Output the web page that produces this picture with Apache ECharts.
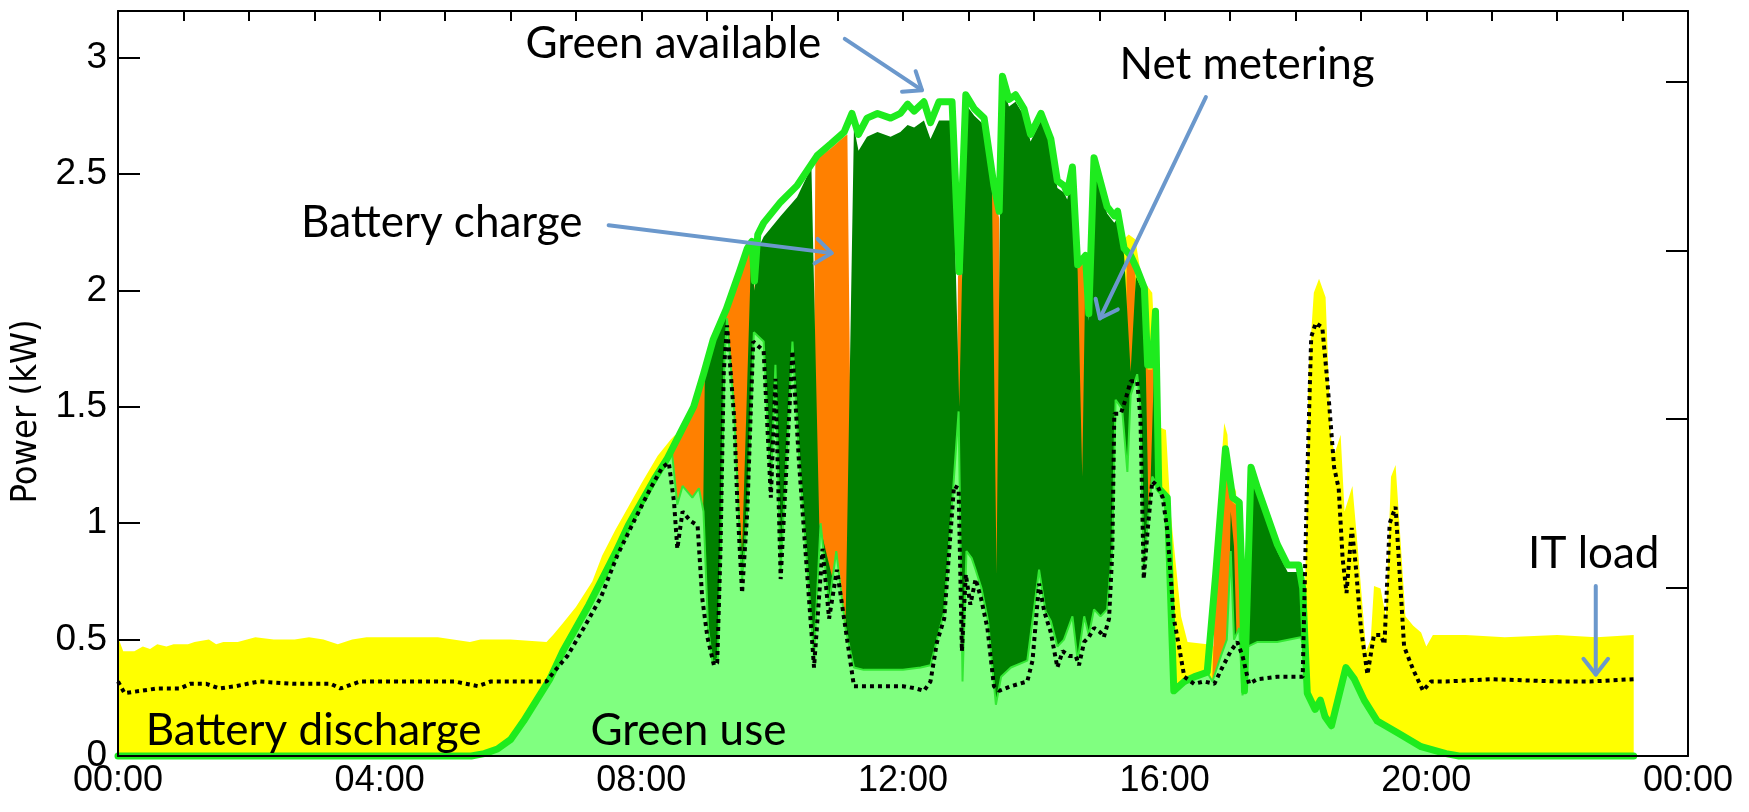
<!DOCTYPE html>
<html><head><meta charset="utf-8">
<script src="https://cdn.jsdelivr.net/npm/echarts@6/dist/echarts.min.js"></script>
<style>html,body{margin:0;padding:0;background:#fff}#c{width:1749px;height:812px}</style>
</head><body><div id="c"></div>
<script>
// ---- tick labels ----
const xTickLabels = ['00:00','04:00','08:00','12:00','16:00','20:00','00:00'];
const yTickLabels = ['0','0.5','1','1.5','2','2.5','3'];

// ---- series values: [hour of day, kW] (upper edge of each drawn layer) ----
const batteryDischarge = [[0,0.51],[0.08,0.45],[0.25,0.45],[0.38,0.47],[0.49,0.46],[0.6,0.48],[0.74,0.47],[0.85,0.48],[1.07,0.48],[1.17,0.49],[1.39,0.5],[1.5,0.48],[1.61,0.49],[1.83,0.49],[2.1,0.51],[2.38,0.5],[2.7,0.5],[2.92,0.51],[3.14,0.5],[3.36,0.48],[3.58,0.5],[3.8,0.51],[4.34,0.51],[4.89,0.51],[5.38,0.49],[5.54,0.5],[6.0,0.5],[6.55,0.49],[6.65,0.52],[6.8,0.57],[7.0,0.64],[7.25,0.75],[7.4,0.86],[7.6,0.97],[7.8,1.07],[8.0,1.17],[8.25,1.29],[8.45,1.36],[8.52,1.38],[8.6,0.2],[15.2,0.2],[15.3,2.2],[15.45,2.24],[15.55,2.22],[15.65,2.05],[15.81,1.99],[15.9,1.5],[15.94,1.41],[16.02,1.4],[16.09,1.05],[16.25,0.6],[16.35,0.49],[16.65,0.48],[16.75,0.47],[16.85,1.2],[16.91,1.43],[16.96,1.38],[17.01,1.07],[17.09,1.15],[17.14,0.72],[17.2,0.2],[18.1,0.2],[18.16,0.9],[18.2,1.65],[18.28,1.99],[18.36,2.05],[18.46,1.97],[18.54,1.37],[18.6,1.3],[18.69,1.38],[18.75,1.05],[18.87,1.16],[18.95,0.9],[19.08,0.45],[19.15,0.5],[19.2,0.73],[19.3,0.72],[19.38,0.6],[19.46,1.2],[19.53,1.25],[19.6,0.95],[19.68,0.6],[19.8,0.56],[19.92,0.53],[20.0,0.47],[20.1,0.52],[20.6,0.52],[21.2,0.51],[22.0,0.52],[22.6,0.51],[23.17,0.52]];

const batteryCharge = [[0,0],[8.44,0],[8.47,1.3],[8.6,1.37],[8.8,1.48],[8.95,1.62],[9.1,1.77],[9.3,1.9],[9.5,2.06],[9.62,2.16],[9.69,2.19],[9.73,2.02],[9.8,0],[10.6,0],[10.66,2.56],[10.9,2.61],[11.1,2.66],[11.15,2.67],[11.25,0],[12.78,0],[12.84,2.06],[12.9,2.1],[12.96,0],[13.3,0],[13.36,2.45],[13.47,2.31],[13.5,0],[14.6,0],[14.66,2.1],[14.8,2.12],[14.83,0],[15.36,0],[15.42,2.16],[15.55,2.1],[15.58,0],[15.66,0],[15.71,1.97],[15.74,1.66],[15.81,1.66],[15.85,1.85],[15.88,0],[16.7,0],[16.73,0.35],[16.78,0.76],[16.93,1.3],[17.04,1.09],[17.14,1.07],[17.19,0.68],[17.22,0],[23.17,0]];

const netMetering = [[0,0],[8.9,0],[8.97,1.62],[9.1,1.76],[9.25,1.88],[9.3,1.88],[9.54,0.88],[9.68,2.17],[9.73,2.0],[9.8,2.19],[9.87,2.23],[10.13,2.32],[10.38,2.4],[10.6,2.53],[10.72,1.0],[11.12,0.53],[11.25,2.7],[11.32,2.6],[11.45,2.66],[11.61,2.68],[11.81,2.66],[11.96,2.68],[12.07,2.71],[12.17,2.7],[12.32,2.73],[12.42,2.65],[12.55,2.73],[12.75,2.73],[12.86,1.5],[12.96,2.8],[13.09,2.75],[13.24,2.71],[13.36,2.43],[13.43,0.78],[13.48,2.3],[13.52,2.88],[13.62,2.79],[13.72,2.81],[13.85,2.75],[13.95,2.64],[14.11,2.73],[14.26,2.62],[14.36,2.44],[14.46,2.42],[14.51,2.39],[14.59,2.5],[14.67,2.08],[14.74,1.2],[14.79,2.12],[14.84,1.87],[14.92,2.54],[15.12,2.33],[15.23,2.29],[15.28,2.31],[15.38,2.15],[15.48,1.65],[15.56,2.06],[15.69,1.98],[15.76,0.95],[15.86,1.88],[15.91,1.12],[16.04,1.08],[16.1,0.3],[16.14,0],[16.92,0],[16.97,0.45],[17.01,1.05],[17.06,0.9],[17.1,0.5],[17.14,0],[17.22,0],[17.26,0.75],[17.32,1.2],[17.42,1.12],[17.57,1.0],[17.72,0.88],[17.88,0.79],[18.05,0.79],[18.11,0.69],[18.17,0.27],[18.2,0],[23.17,0]];

const greenUse = [[0,0],[5.4,0],[5.6,0.01],[5.8,0.03],[6.0,0.07],[6.2,0.15],[6.4,0.24],[6.6,0.33],[6.8,0.45],[7.0,0.55],[7.2,0.65],[7.4,0.76],[7.6,0.87],[7.8,0.99],[8.0,1.09],[8.2,1.19],[8.4,1.28],[8.47,1.3],[8.55,1.08],[8.63,1.16],[8.78,1.11],[8.88,1.15],[8.95,1.05],[9.02,0.55],[9.09,0.4],[9.17,0.42],[9.22,0.95],[9.27,1.7],[9.31,1.88],[9.42,1.48],[9.48,1.1],[9.54,0.75],[9.63,1.1],[9.72,1.82],[9.87,1.78],[9.98,1.16],[10.05,1.68],[10.13,0.8],[10.31,1.78],[10.41,1.3],[10.64,0.42],[10.74,1.0],[10.87,0.65],[10.98,0.88],[11.12,0.55],[11.25,0.38],[11.4,0.37],[12.0,0.37],[12.27,0.38],[12.42,0.39],[12.52,0.5],[12.63,0.62],[12.78,1.2],[12.85,1.48],[12.91,0.32],[12.97,0.88],[13.05,0.85],[13.11,0.8],[13.2,0.72],[13.3,0.58],[13.42,0.22],[13.5,0.34],[13.65,0.38],[13.9,0.41],[14.08,0.8],[14.18,0.62],[14.26,0.58],[14.36,0.47],[14.46,0.5],[14.59,0.6],[14.67,0.41],[14.77,0.6],[14.84,0.52],[14.92,0.63],[15.02,0.6],[15.12,0.63],[15.2,0.9],[15.25,1.53],[15.35,1.49],[15.43,1.22],[15.48,1.55],[15.58,1.64],[15.63,1.5],[15.68,0.8],[15.74,1.0],[15.81,1.2],[15.94,1.14],[16.04,1.05],[16.14,0.3],[16.3,0.32],[16.45,0.34],[16.65,0.36],[16.73,0.32],[16.86,0.43],[16.95,0.5],[17.01,0.88],[17.06,0.5],[17.14,0.55],[17.19,0.26],[17.27,0.47],[17.42,0.49],[17.72,0.49],[18.08,0.51],[18.15,0.45],[18.18,0.27],[18.3,0.2],[18.38,0.24],[18.45,0.17],[18.55,0.13],[18.77,0.38],[18.9,0.33],[19.05,0.24],[19.25,0.15],[19.56,0.1],[19.92,0.04],[20.3,0.01],[20.5,0],[23.17,0]];

const greenAvailable = [[0,0],[5.4,0],[5.6,0.01],[5.8,0.03],[6.0,0.07],[6.2,0.15],[6.4,0.24],[6.6,0.33],[6.8,0.45],[7.0,0.55],[7.2,0.65],[7.4,0.76],[7.6,0.87],[7.8,0.99],[8.0,1.09],[8.2,1.19],[8.4,1.28],[8.6,1.39],[8.8,1.5],[8.95,1.64],[9.1,1.79],[9.3,1.92],[9.5,2.08],[9.62,2.18],[9.69,2.21],[9.73,2.04],[9.78,2.24],[9.87,2.29],[10.13,2.38],[10.38,2.45],[10.69,2.58],[10.9,2.63],[11.1,2.68],[11.22,2.76],[11.32,2.67],[11.45,2.74],[11.61,2.76],[11.81,2.74],[11.96,2.76],[12.07,2.8],[12.17,2.77],[12.32,2.81],[12.42,2.72],[12.55,2.81],[12.75,2.81],[12.86,2.08],[12.96,2.84],[13.09,2.78],[13.24,2.74],[13.39,2.45],[13.47,2.34],[13.52,2.92],[13.62,2.82],[13.72,2.84],[13.85,2.78],[13.95,2.67],[14.11,2.76],[14.26,2.65],[14.36,2.47],[14.46,2.45],[14.51,2.42],[14.59,2.53],[14.67,2.11],[14.79,2.15],[14.84,1.9],[14.92,2.57],[15.12,2.36],[15.23,2.32],[15.28,2.34],[15.38,2.18],[15.48,2.15],[15.58,2.09],[15.69,2.01],[15.74,1.68],[15.81,1.68],[15.86,1.91],[15.91,1.15],[16.04,1.11],[16.14,0.28],[16.3,0.32],[16.45,0.34],[16.65,0.36],[16.78,0.78],[16.93,1.32],[17.04,1.11],[17.14,1.09],[17.19,0.7],[17.22,0.28],[17.32,1.24],[17.42,1.15],[17.57,1.03],[17.72,0.91],[17.88,0.82],[18.05,0.82],[18.11,0.72],[18.18,0.27],[18.3,0.2],[18.38,0.24],[18.45,0.17],[18.55,0.13],[18.77,0.38],[18.9,0.33],[19.05,0.24],[19.25,0.15],[19.56,0.1],[19.92,0.04],[20.3,0.01],[20.5,0],[23.17,0]];

const itLoad = [[0,0.32],[0.1,0.27],[0.35,0.28],[0.6,0.29],[0.95,0.29],[1.1,0.31],[1.35,0.31],[1.55,0.29],[1.8,0.3],[2.15,0.32],[2.7,0.31],[3.25,0.31],[3.4,0.29],[3.7,0.32],[4.3,0.32],[5.15,0.32],[5.5,0.3],[5.7,0.32],[6.55,0.32],[6.66,0.36],[6.87,0.43],[7.12,0.55],[7.38,0.68],[7.63,0.86],[7.89,1.01],[8.14,1.15],[8.32,1.24],[8.42,1.26],[8.5,1.09],[8.55,0.89],[8.63,1.05],[8.75,1.01],[8.86,0.99],[8.93,0.68],[9.01,0.51],[9.11,0.39],[9.16,0.4],[9.21,0.88],[9.26,1.65],[9.31,1.85],[9.42,1.45],[9.47,1.07],[9.54,0.7],[9.62,1.05],[9.71,1.78],[9.87,1.74],[9.98,1.11],[10.05,1.62],[10.13,0.76],[10.31,1.74],[10.41,1.26],[10.64,0.38],[10.77,0.89],[10.87,0.59],[10.99,0.8],[11.12,0.55],[11.25,0.3],[11.4,0.3],[12.0,0.3],[12.2,0.29],[12.32,0.28],[12.42,0.32],[12.52,0.49],[12.63,0.59],[12.78,1.16],[12.85,1.15],[12.9,0.45],[12.96,0.78],[13.03,0.65],[13.11,0.76],[13.19,0.68],[13.29,0.55],[13.39,0.3],[13.47,0.28],[13.65,0.3],[13.9,0.32],[13.98,0.41],[14.08,0.74],[14.16,0.62],[14.26,0.53],[14.36,0.38],[14.44,0.45],[14.54,0.43],[14.64,0.43],[14.69,0.39],[14.77,0.49],[14.84,0.51],[14.92,0.55],[15.02,0.53],[15.07,0.51],[15.15,0.59],[15.2,0.88],[15.23,1.47],[15.33,1.47],[15.4,1.53],[15.48,1.61],[15.58,1.61],[15.63,1.45],[15.68,0.76],[15.74,0.97],[15.81,1.18],[15.89,1.16],[15.97,1.11],[16.04,0.97],[16.09,0.78],[16.14,0.59],[16.22,0.47],[16.3,0.34],[16.45,0.31],[16.6,0.32],[16.76,0.31],[16.88,0.38],[17.01,0.45],[17.11,0.49],[17.19,0.43],[17.29,0.31],[17.42,0.33],[17.72,0.34],[18.11,0.34],[18.17,1.1],[18.24,1.8],[18.31,1.86],[18.41,1.84],[18.49,1.6],[18.59,1.24],[18.66,1.15],[18.72,0.85],[18.78,0.7],[18.86,0.98],[18.92,0.82],[19.0,0.55],[19.1,0.35],[19.2,0.52],[19.3,0.52],[19.36,0.48],[19.44,1.0],[19.53,1.07],[19.6,0.75],[19.66,0.47],[19.8,0.37],[19.95,0.28],[20.07,0.32],[20.3,0.32],[21.0,0.33],[22.0,0.32],[22.5,0.32],[23.17,0.33]];

// ---- annotations (anchored in data coordinates) ----
const annotations = [
  {text:'Green available', at:[8.49,3.06], arrow:[[11.11,3.08],[12.29,2.86]]},
  {text:'Net metering', at:[17.26,2.97], arrow:[[16.63,2.83],[15.01,1.88]]},
  {text:'Battery charge', at:[4.95,2.29], arrow:[[7.5,2.28],[10.91,2.16]]},
  {text:'IT load', at:[22.56,0.87], arrow:[[22.59,0.73],[22.59,0.35]]},
  {text:'Battery discharge', at:[2.99,0.107]},
  {text:'Green use', at:[8.72,0.107]}
];

const TICK_FONT = '"Liberation Sans", Arial, sans-serif';
const NAME_FONT = '"Liberation Sans Narrow", "Arial Narrow", "DejaVu Sans Condensed", sans-serif';
const NOTE_FONT = 'Lato, "Open Sans", sans-serif';

const chart = echarts.init(document.getElementById('c'), null, {renderer:'canvas'});

function area(name, data, color, z, line) {
  return {
    name, type:'line', data, z, symbol:'none', showSymbol:false, smooth:false,
    lineStyle: line || {width:0, opacity:0},
    areaStyle: {color, opacity:1},
    emphasis:{disabled:true}
  };
}

chart.setOption({
  animation:false,
  backgroundColor:'#ffffff',
  grid:{left:118, right:61, top:11, bottom:56},
  xAxis:[
    {type:'value', min:0, max:24, interval:4, position:'bottom', z:10,
     axisLine:{show:true, onZero:false, lineStyle:{color:'#000', width:2}},
     axisTick:{show:false}, splitLine:{show:false},
     axisLabel:{formatter:v => xTickLabels[Math.round(v/4)], fontSize:36, fontFamily:TICK_FONT, color:'#000', margin:7}},
    {type:'value', min:0, max:24, interval:1, position:'top', z:10,
     axisLine:{show:true, onZero:false, lineStyle:{color:'#000', width:2}},
     axisTick:{show:true, inside:true, length:10, lineStyle:{color:'#000', width:2}},
     axisLabel:{show:false}, splitLine:{show:false}}
  ],
  yAxis:[
    {type:'value', min:0, max:3.2, interval:0.5, position:'left', z:10,
     name:'Power (kW)', nameLocation:'middle', nameGap:66,
     nameTextStyle:{fontSize:36, fontFamily:NAME_FONT, color:'#000', padding:[0,56,0,0]},
     axisLine:{show:true, onZero:false, lineStyle:{color:'#000', width:2}},
     axisTick:{show:true, inside:true, length:22, lineStyle:{color:'#000', width:2}},
     axisLabel:{fontSize:37, fontFamily:TICK_FONT, color:'#000', margin:11,
       formatter:v => { const i = v/0.5; return Math.abs(i-Math.round(i))>1e-6 ? '' : yTickLabels[Math.round(i)]; }},
     splitLine:{show:false}},
    {type:'value', min:0, max:4.42, interval:1, position:'right', z:10,
     axisLine:{show:true, onZero:false, lineStyle:{color:'#000', width:2}},
     axisTick:{show:true, inside:true, length:22, lineStyle:{color:'#000', width:2}},
     axisLabel:{show:false}, splitLine:{show:false}}
  ],
  series:[
    area('Battery discharge', batteryDischarge, '#FFFF00', 1),
    area('Battery charge', batteryCharge, '#FF8000', 2),
    area('Net metering', netMetering, '#008000', 3),
    area('Green use', greenUse, '#80FF80', 4, {width:2, color:'#33E833'}),
    {name:'Green available', type:'line', data:greenAvailable, z:5, symbol:'none', showSymbol:false,
     clip:false, lineStyle:{width:7, color:'#1EEB1E', join:'round', cap:'round'}, emphasis:{disabled:true}},
    {name:'IT load', type:'line', data:itLoad, z:6, symbol:'none', showSymbol:false,
     lineStyle:{width:4, color:'#000', type:[4,4], cap:'butt'}, emphasis:{disabled:true}}
  ]
});

// annotations
const toPx = p => chart.convertToPixel({xAxisIndex:0, yAxisIndex:0}, p);
const graphics = [];
const ARROW = '#6B98CC';
annotations.forEach(a => {
  const [tx, ty] = toPx(a.at);
  graphics.push({type:'text', x:tx, y:ty, z:100,
    style:{text:a.text, fontSize:44, fontFamily:NOTE_FONT, fill:'#000', align:'center', verticalAlign:'middle'}});
  if (a.arrow) {
    const [p1, p2] = a.arrow.map(toPx);
    graphics.push({type:'line', z:100, shape:{x1:p1[0], y1:p1[1], x2:p2[0], y2:p2[1]},
      style:{stroke:ARROW, lineWidth:4, lineCap:'round'}});
    const dx = p2[0]-p1[0], dy = p2[1]-p1[1], L = Math.hypot(dx, dy);
    const ux = -dx/L, uy = -dy/L, h = 20, th = 38*Math.PI/180;
    const rot = (t) => [p2[0] + h*(ux*Math.cos(t) - uy*Math.sin(t)), p2[1] + h*(ux*Math.sin(t) + uy*Math.cos(t))];
    graphics.push({type:'polyline', z:100, shape:{points:[rot(th), [p2[0],p2[1]], rot(-th)]},
      style:{stroke:ARROW, lineWidth:4, fill:null, lineCap:'round', lineJoin:'round'}});
  }
});
chart.setOption({graphic:graphics});
</script>
</body></html>
